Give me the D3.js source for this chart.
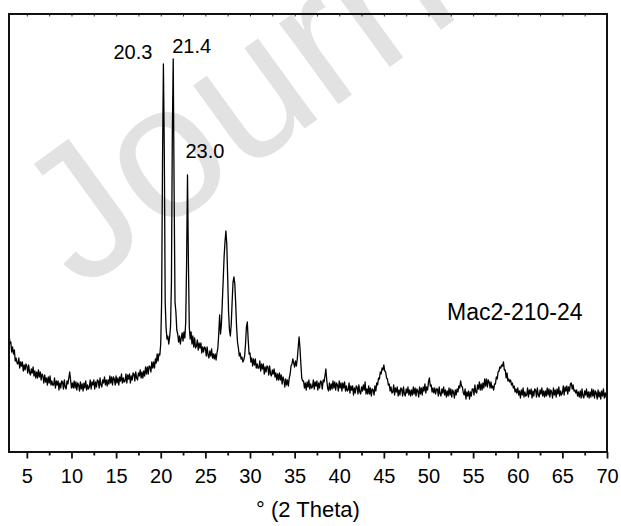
<!DOCTYPE html>
<html>
<head>
<meta charset="utf-8">
<script src="https://cdn.jsdelivr.net/npm/d3@7"></script>
<style>
  html, body { margin: 0; padding: 0; background: #fff; }
  svg { display: block; font-family: "Liberation Sans", Arial, sans-serif; }
</style>
</head>
<body>
<svg id="chart" width="621" height="526"></svg>
<script>
// XRD scan: 2θ from 3.0° to 70.0° in 0.1° steps, intensity in arbitrary units
const scanStart = 3.0;
const scanStep = 0.1;
const intensity = [
  119,109,110,100,105,98,102,91,94,89,      // 3°
  88,94,84,90,86,90,81,87,82,88,            // 4°
  86,79,87,80,77,83,79,85,76,81,            // 5°
  74,80,74,82,75,80,72,78,76,69,            // 6°
  77,70,74,67,75,69,76,67,71,67,            // 7°
  67,74,64,71,67,71,62,69,64,71,            // 8°
  70,63,72,65,63,71,68,74,80,72,            // 9°
  64,69,64,71,64,70,62,69,67,61,            // 10°
  70,63,68,61,69,64,71,62,67,63,            // 11°
  65,72,63,70,67,72,63,70,65,72,            // 12°
  71,64,74,67,65,72,69,75,67,72,            // 13°
  66,72,68,76,69,75,67,75,73,67,            // 14°
  76,69,74,67,75,71,78,69,74,70,            // 15°
  71,78,69,77,73,78,69,76,72,79,            // 16°
  78,71,80,74,72,79,76,82,74,80,            // 17°
  74,81,76,85,78,85,78,86,85,80,            // 18°
  90,84,90,84,93,89,98,91,98,97,            // 19°
  108,150,290,388,300,150,124,113,116,108,  // 20°
  115,126,170,320,393,260,150,140,122,118,  // 21°
  110,116,108,114,119,111,120,114,130,190,  // 22°
  277,190,125,113,120,108,116,105,114,104,  // 23°
  106,112,102,109,104,109,99,105,100,105,   // 24°
  104,96,105,97,94,101,96,103,94,98,        // 25°
  93,98,92,99,104,118,137,118,128,150,      // 26°
  172,195,210,221,208,175,140,122,116,128,  // 27°
  150,170,175,168,148,125,110,104,96,99,    // 28°
  93,95,90,92,96,108,125,130,112,98,        // 29°
  99,90,94,86,93,87,93,84,88,84,            // 30°
  84,91,81,88,83,88,78,85,80,86,            // 31°
  85,77,86,78,76,82,78,83,75,79,            // 32°
  72,78,72,79,72,77,68,75,72,65,            // 33°
  73,67,72,66,74,78,86,88,93,89,            // 34°
  85,91,86,93,104,115,104,88,74,71,         // 35°
  71,64,69,62,70,65,72,63,68,64,            // 36°
  65,72,63,70,66,71,62,69,64,71,            // 37°
  70,63,72,70,76,83,72,64,61,69,            // 38°
  62,68,63,71,64,70,62,69,67,61,            // 39°
  71,64,69,61,69,64,70,61,66,61,            // 40°
  62,69,59,66,62,66,57,64,59,66,            // 41°
  65,58,67,60,58,65,61,67,62,70,            // 42°
  58,63,58,66,58,64,56,63,62,57,            // 43°
  66,61,69,67,74,73,80,78,84,82,            // 44°
  87,81,80,74,73,67,68,61,65,59,            // 45°
  60,67,57,64,60,65,56,62,57,64,            // 46°
  63,56,65,58,56,63,59,65,57,62,            // 47°
  56,62,57,65,58,64,56,63,61,55,            // 48°
  65,58,64,57,65,61,68,59,65,62,            // 49°
  70,74,66,67,60,64,59,64,58,63,            // 50°
  63,56,65,58,56,63,59,65,57,62,            // 51°
  55,61,56,64,57,63,55,62,60,54,            // 52°
  62,57,63,60,66,64,71,66,65,59,            // 53°
  57,63,53,60,56,61,53,60,56,63,            // 54°
  63,57,67,60,59,67,63,70,62,68,            // 55°
  62,69,64,73,66,73,65,72,70,64,            // 56°
  70,64,66,62,68,68,75,73,80,81,            // 57°
  85,84,87,86,90,82,82,74,79,71,            // 58°
  73,70,72,67,69,64,66,60,63,59,            // 59°
  64,57,61,54,62,57,64,55,60,56,            // 60°
  57,64,55,62,58,63,54,61,56,63,            // 61°
  62,55,64,57,55,62,58,64,56,61,            // 62°
  55,61,56,64,57,63,55,62,60,54,            // 63°
  64,57,62,55,63,58,65,56,61,57,            // 64°
  59,66,57,65,61,66,58,65,61,68,            // 65°
  69,63,67,61,62,59,62,56,60,55,            // 66°
  61,54,63,56,54,61,57,63,55,60,            // 67°
  54,60,55,63,56,62,54,61,59,53,            // 68°
  62,55,60,53,61,56,63,54,59,55,            // 69°
  57                                        // 70°
];

const majorTicks = [5, 10, 15, 20, 25, 30, 35, 40, 45, 50, 55, 60, 65, 70];
const minorTicks = [7.5, 12.5, 17.5, 22.5, 27.5, 32.5, 37.5, 42.5, 47.5, 52.5, 57.5, 62.5, 67.5];
const peakPositions = [20.3, 21.4, 23.0];
const peakLabels = ["20.3", "21.4", "23.0"];
const sampleName = "Mac2-210-24";
const xTitle = "° (2 Theta)";
const watermarkText = "Journal Pre-proof";

// layout
const plot = { left: 9, right: 607, top: 14, bottom: 452 };

const svg = d3.select("#chart");

const x = d3.scaleLinear().domain([3, 70]).range([plot.left, plot.right]);
const y = d3.scaleLinear().domain([0, 438]).range([plot.bottom, plot.top]);

const scan = intensity.map((v, i) => ({ t: scanStart + i * scanStep, v }));

// faint background watermark
svg.append("text")
  .attr("transform", "translate(80,292) rotate(-36)")
  .attr("font-size", 190)
  .attr("fill", "#e2e2e2")
  .text(watermarkText);

// clip for the trace
svg.append("defs").append("clipPath").attr("id", "plotClip")
  .append("rect")
  .attr("x", plot.left).attr("y", plot.top)
  .attr("width", plot.right - plot.left).attr("height", plot.bottom - plot.top);

const line = d3.line().x(d => x(d.t)).y(d => y(d.v));

svg.append("path")
  .datum(scan)
  .attr("clip-path", "url(#plotClip)")
  .attr("fill", "none")
  .attr("stroke", "#000")
  .attr("stroke-width", 1.3)
  .attr("stroke-linejoin", "round")
  .attr("d", line);

// bottom axis: minor ticks, then major ticks with labels
const minorAxis = d3.axisBottom(x).tickValues(minorTicks).tickSize(3.5).tickFormat("");
const majorAxis = d3.axisBottom(x).tickValues(majorTicks).tickSize(6.5).tickPadding(10).tickFormat(d3.format("d"));

const gMinor = svg.append("g").attr("transform", `translate(0,${plot.bottom})`).call(minorAxis);
const gMajor = svg.append("g").attr("transform", `translate(0,${plot.bottom})`).call(majorAxis);
[gMinor, gMajor].forEach(g => {
  g.select(".domain").remove();
  g.selectAll(".tick line").attr("stroke", "#111").attr("stroke-width", 1.8);
});
gMajor.selectAll(".tick text")
  .attr("fill", "#000")
  .attr("font-size", 20)
  .attr("font-family", "\"Liberation Sans\", Arial, sans-serif");

// small ticks along the top edge
const gTop = svg.append("g").attr("transform", `translate(0,${plot.top})`)
  .call(d3.axisTop(x).tickValues(majorTicks.concat(minorTicks)).tickSize(-2.5).tickFormat(""));
gTop.select(".domain").remove();
gTop.selectAll(".tick line").attr("stroke", "#333").attr("stroke-width", 1);

// frame
svg.append("rect")
  .attr("x", plot.left).attr("y", plot.top)
  .attr("width", plot.right - plot.left).attr("height", plot.bottom - plot.top)
  .attr("fill", "none").attr("stroke", "#111").attr("stroke-width", 2);

// axis title
svg.append("text")
  .attr("x", (plot.left + plot.right) / 2)
  .attr("y", 517)
  .attr("text-anchor", "middle")
  .attr("font-size", 22)
  .attr("fill", "#000")
  .text(xTitle);

// peak position labels
const peakLabelLayout = [
  { dx: -11, dy: -5, anchor: "end" },
  { dx: -1, dy: -6, anchor: "start" },
  { dx: -2, dy: -17, anchor: "start" }
];
peakPositions.forEach((p, i) => {
  const idx = Math.round((p - scanStart) / scanStep);
  const lay = peakLabelLayout[i];
  svg.append("text")
    .attr("x", x(p) + lay.dx)
    .attr("y", y(intensity[idx]) + lay.dy)
    .attr("text-anchor", lay.anchor)
    .attr("font-size", 20)
    .attr("fill", "#000")
    .text(peakLabels[i]);
});

// sample name
svg.append("text")
  .attr("x", 447)
  .attr("y", 320)
  .attr("font-size", 23)
  .attr("fill", "#000")
  .text(sampleName);
</script>
</body>
</html>
